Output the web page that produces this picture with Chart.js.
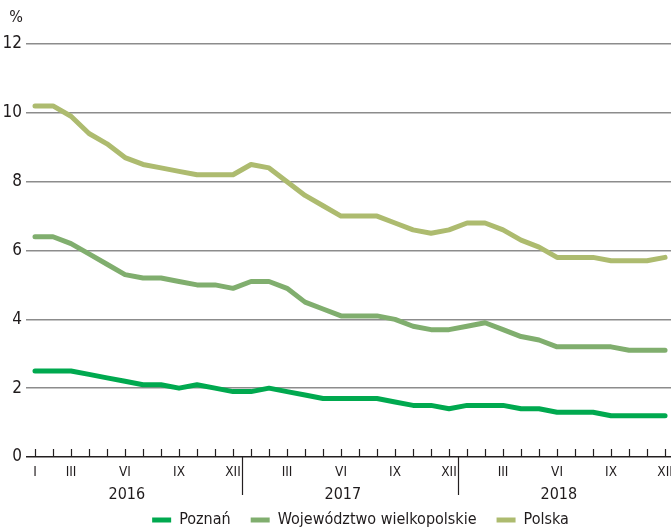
<!DOCTYPE html>
<html>
<head>
<meta charset="utf-8">
<script src="https://cdn.jsdelivr.net/npm/chart.js@4"></script>
<style>
    html, body { margin: 0; padding: 0; background: #fff; }
</style>
</head>
<body>
<canvas id="chart" width="671" height="532"></canvas>
<script>
// ==================== Data ====================

// month labels under the axis (January only shown for the first year)
const tickLabels = ['I', '', 'III', '', '', 'VI', '', '', 'IX', '', '', 'XII',
                    '', '', 'III', '', '', 'VI', '', '', 'IX', '', '', 'XII',
                    '', '', 'III', '', '', 'VI', '', '', 'IX', '', '', 'XII'];
const years = ['2016', '2017', '2018'];

const poznan = [2.5, 2.5, 2.5, 2.4, 2.3, 2.2, 2.1, 2.1, 2.0, 2.1, 2.0, 1.9,
                1.9, 2.0, 1.9, 1.8, 1.7, 1.7, 1.7, 1.7, 1.6, 1.5, 1.5, 1.4,
                1.5, 1.5, 1.5, 1.4, 1.4, 1.3, 1.3, 1.3, 1.2, 1.2, 1.2, 1.2];
const wielkopolskie = [6.4, 6.4, 6.2, 5.9, 5.6, 5.3, 5.2, 5.2, 5.1, 5.0, 5.0, 4.9,
                       5.1, 5.1, 4.9, 4.5, 4.3, 4.1, 4.1, 4.1, 4.0, 3.8, 3.7, 3.7,
                       3.8, 3.9, 3.7, 3.5, 3.4, 3.2, 3.2, 3.2, 3.2, 3.1, 3.1, 3.1];
const polska = [10.2, 10.2, 9.9, 9.4, 9.1, 8.7, 8.5, 8.4, 8.3, 8.2, 8.2, 8.2,
                8.5, 8.4, 8.0, 7.6, 7.3, 7.0, 7.0, 7.0, 6.8, 6.6, 6.5, 6.6,
                6.8, 6.8, 6.6, 6.3, 6.1, 5.8, 5.8, 5.8, 5.7, 5.7, 5.7, 5.8];

const FONT = '"Liberation Sans Narrow", "DejaVu Sans Condensed", sans-serif';
const TEXT = '#1f1b1c';

function points(values) {
    return values.map((v, i) => ({ x: i, y: v }));
}

function lineSet(label, values, color) {
    return {
        label: label,
        data: points(values),
        borderColor: color,
        backgroundColor: color,
        borderWidth: 5,
        borderCapStyle: 'round',
        borderJoinStyle: 'round',
        pointRadius: 0,
        pointStyle: 'line',
        tension: 0,
        fill: false
    };
}

// ==================== Axis decorations ====================

const axisExtras = {
    id: 'axisExtras',
    afterLayout(chart) {
        // the legend row sits a little right of centre in the original
        if (chart.legend) chart.legend.left += 50;
    },
    afterDraw(chart) {
        const ctx = chart.ctx;
        const x = chart.scales.x;
        const y = chart.scales.y;
        const base = y.getPixelForValue(0);

        ctx.save();
        ctx.strokeStyle = '#231f20';
        ctx.lineWidth = 1.2;

        // small month ticks pointing up
        poznan.forEach((_, i) => {
            const px = Math.round(x.getPixelForValue(i)) + 0.5;
            ctx.beginPath();
            ctx.moveTo(px, base);
            ctx.lineTo(px, base - 8);
            ctx.stroke();
        });

        // year separators
        for (let k = 1; k < years.length; k++) {
            const px = Math.round(x.getPixelForValue(k * 12 - 0.5)) + 0.5;
            ctx.beginPath();
            ctx.moveTo(px, base);
            ctx.lineTo(px, base + 38);
            ctx.stroke();
        }

        // year labels
        ctx.fillStyle = TEXT;
        ctx.font = '16px ' + FONT;
        ctx.textAlign = 'center';
        ctx.textBaseline = 'middle';
        years.forEach((yr, k) => {
            ctx.fillText(yr, x.getPixelForValue(k * 12 + 5.1), base + 38);
        });

        // unit
        ctx.textAlign = 'right';
        ctx.fillText('%', y.right - 3, y.top - 26);
        ctx.restore();
    }
};

// ==================== Chart ====================

new Chart(document.getElementById('chart'), {
    type: 'line',
    data: {
        datasets: [
            lineSet('Poznań', poznan, '#00a94f'),
            lineSet('Województwo wielkopolskie', wielkopolskie, '#80ae6e'),
            lineSet('Polska', polska, '#adbb6f')
        ]
    },
    options: {
        responsive: false,
        animation: false,
        layout: { padding: { top: 44, right: 0, left: 0, bottom: -6 } },
        plugins: {
            legend: {
                position: 'bottom',
                labels: {
                    usePointStyle: true,
                    pointStyleWidth: 19,
                    color: TEXT,
                    padding: 20,
                    font: { family: FONT, size: 16 }
                }
            },
            tooltip: { enabled: false }
        },
        scales: {
            x: {
                type: 'linear',
                min: -0.5,
                max: 35.33,
                afterBuildTicks: scale => {
                    scale.ticks = tickLabels.map((_, i) => ({ value: i }));
                },
                afterFit: scale => {
                    scale.height = 35;
                    scale.paddingLeft = 0;
                    scale.paddingRight = 0;
                },
                grid: { display: false, drawTicks: false },
                border: { display: false },
                ticks: {
                    autoSkip: false,
                    maxRotation: 0,
                    padding: 7,
                    color: TEXT,
                    font: { family: FONT, size: 13.5 },
                    callback: (value, index) => tickLabels[index]
                }
            },
            y: {
                min: 0,
                max: 12,
                afterFit: scale => { scale.width = 26; },
                border: { display: false },
                grid: {
                    drawTicks: false,
                    lineWidth: 1.5,
                    color: c => c.tick.value === 0 ? '#231f20' : '#8c8c8c'
                },
                ticks: {
                    stepSize: 2,
                    padding: 4,
                    color: TEXT,
                    font: { family: FONT, size: 17 }
                }
            }
        }
    },
    plugins: [axisExtras]
});
</script>
</body>
</html>
